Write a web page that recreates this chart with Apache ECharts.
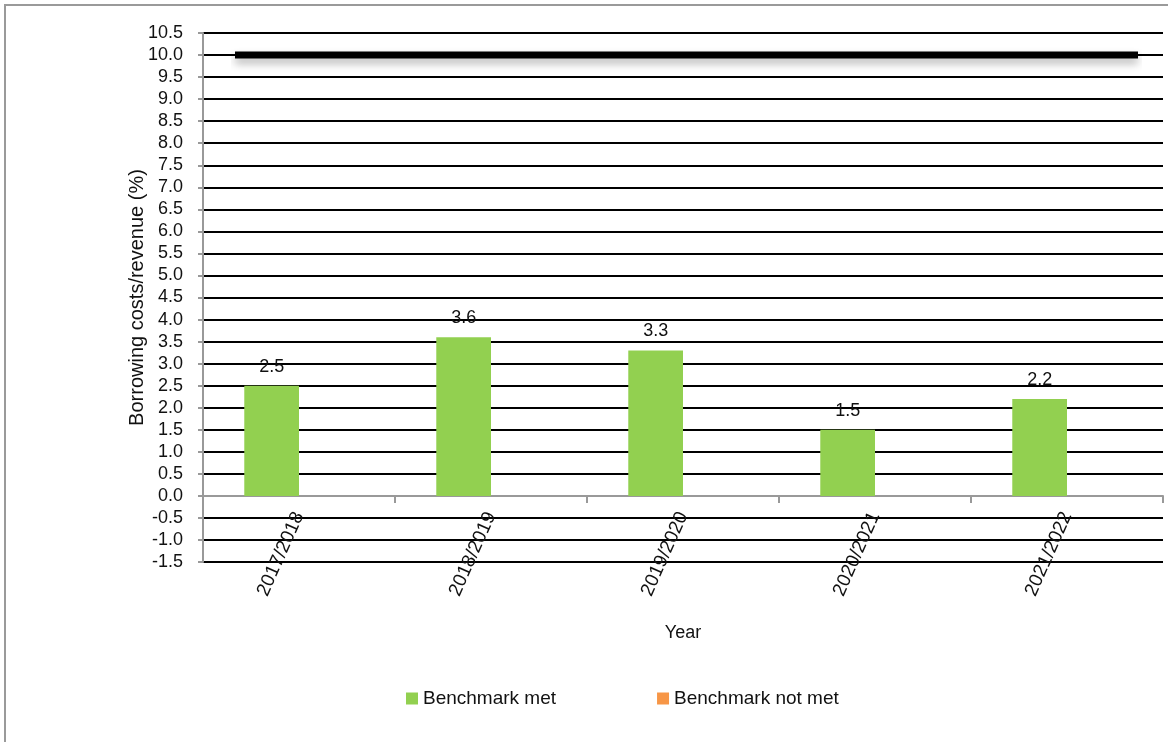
<!DOCTYPE html>
<html lang="en">
<head>
    <meta charset="utf-8" />
    <title>Borrowing costs / revenue</title>
    <script src="https://cdn.jsdelivr.net/npm/echarts@6/dist/echarts.min.js"></script>
    <style>
        html, body { margin: 0; padding: 0; background: #fff; }
        #chart { width: 1168px; height: 742px; }
    </style>
</head>
<body>
<div id="chart"></div>
<script>
// data
var years = ['2017/2018', '2018/2019', '2019/2020', '2020/2021', '2021/2022'];
var benchmarkMet = [2.5, 3.6, 3.3, 1.5, 2.2];
var benchmarkNotMet = [null, null, null, null, null];
var benchmarkLine = [10, 10, 10, 10, 10];

var font = 'Liberation Sans, Arial, sans-serif';

var chart = echarts.init(document.getElementById('chart'));

chart.setOption({
    animation: false,
    textStyle: { fontFamily: font },
    // outer frame
    graphic: [{
        type: 'rect',
        shape: { x: 5, y: 5, width: 1200, height: 800 },
        style: { fill: 'none', stroke: '#9a9a9a', lineWidth: 2 },
        silent: true
    }],
    legend: {
        data: ['Benchmark met', 'Benchmark not met'],
        left: 406,
        top: 689,
        padding: 0,
        icon: 'rect',
        itemWidth: 12,
        itemHeight: 12,
        itemGap: 101,
        textStyle: { fontSize: 19, color: '#111', fontFamily: font }
    },
    grid: [
        { left: 203, right: 5, top: 33, bottom: 180 },
        // benchmark line sits a little inside the plot
        { left: 235, right: 30, top: 33, bottom: 180 }
    ],
    xAxis: [{
        type: 'category',
        gridIndex: 0,
        data: years,
        name: 'Year',
        nameLocation: 'middle',
        nameGap: 62,
        nameMoveOverlap: false,
        nameTextStyle: { fontSize: 18, color: '#111' },
        axisLine: { onZero: true, lineStyle: { color: '#999', width: 2 } },
        axisTick: { show: true, length: 7, lineStyle: { color: '#999', width: 2 } },
        // labels hang just under the zero line
        axisLabel: { rotate: 66, fontSize: 19, color: '#111', margin: -49 }
    }, {
        type: 'category',
        gridIndex: 1,
        data: years,
        boundaryGap: false,
        show: false
    }],
    yAxis: [{
        type: 'value',
        gridIndex: 0,
        min: -1.5,
        max: 10.5,
        interval: 0.5,
        name: 'Borrowing costs/revenue (%)',
        nameLocation: 'middle',
        nameGap: 56,
        nameMoveOverlap: false,
        nameTextStyle: { fontSize: 20, color: '#111' },
        axisLine: { show: true, lineStyle: { color: '#999', width: 2 } },
        axisTick: { show: true, length: 5, lineStyle: { color: '#999', width: 2 } },
        axisLabel: {
            fontSize: 18, color: '#111', margin: 20,
            formatter: function (v) { return v.toFixed(1); }
        },
        splitLine: { show: true, lineStyle: { color: '#000', width: 2 } }
    }, {
        type: 'value',
        gridIndex: 1,
        min: -1.5,
        max: 10.5,
        interval: 0.5,
        show: false,
        splitLine: { show: false }
    }],
    series: [{
        name: 'Benchmark met',
        type: 'bar',
        xAxisIndex: 0,
        yAxisIndex: 0,
        data: benchmarkMet,
        barGap: '0%',
        barCategoryGap: '43%',
        itemStyle: { color: '#92D050' },
        label: {
            show: true,
            position: 'top',
            distance: 10,
            fontSize: 18,
            color: '#111',
            formatter: function (p) { return p.value.toFixed(1); }
        }
    }, {
        name: 'Benchmark not met',
        type: 'bar',
        xAxisIndex: 0,
        yAxisIndex: 0,
        data: benchmarkNotMet,
        itemStyle: { color: '#F79646' }
    }, {
        name: 'Benchmark',
        type: 'line',
        xAxisIndex: 1,
        yAxisIndex: 1,
        data: benchmarkLine,
        symbol: 'none',
        lineStyle: {
            color: '#000',
            width: 7,
            shadowColor: 'rgba(0,0,0,0.3)',
            shadowBlur: 8,
            shadowOffsetY: 5
        },
        z: 5
    }]
});
</script>
</body>
</html>
